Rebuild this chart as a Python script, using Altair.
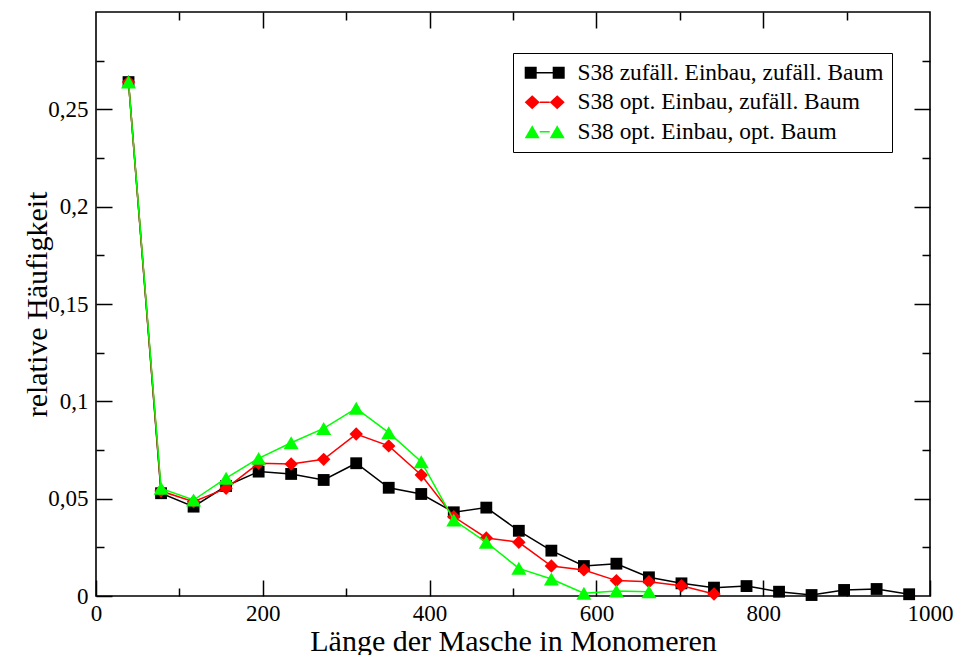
import altair as alt
import pandas as pd

# ---- data ----
x_pos = [39, 78, 117, 156, 195, 234, 273, 312, 351, 390, 429, 468, 507,
         546, 585, 624, 663, 702, 741, 780, 819, 858, 897, 936, 975]

black_y = [0.264, 0.0528, 0.0459, 0.0565, 0.0639, 0.0627, 0.0596, 0.0682,
           0.0556, 0.0524, 0.0430, 0.0454, 0.0335, 0.0233, 0.0154, 0.0166,
           0.0096, 0.0065, 0.0043, 0.0051, 0.0022, 0.0005, 0.0031, 0.0036,
           0.0009]
red_y = [0.264, 0.0539, 0.0484, 0.0553, 0.0682, 0.0678, 0.0702, 0.0832,
         0.0771, 0.0622, 0.0407, 0.0298, 0.0276, 0.0154, 0.0134, 0.0079,
         0.0073, 0.0053, 0.0010]
green_y = [0.264, 0.0553, 0.0493, 0.0605, 0.0707, 0.0787, 0.0861, 0.0964,
           0.0839, 0.0690, 0.0390, 0.0276, 0.0142, 0.0087, 0.0014, 0.0026,
           0.0022]

series_names = ["S38 zufäll. Einbau, zufäll. Baum",
                "S38 opt. Einbau, zufäll. Baum",
                "S38 opt. Einbau, opt. Baum"]
series_colors = ["#000000", "#ff0000", "#00ff00"]
marker_shapes = ["square", "diamond", "triangle-up"]
marker_sizes = [140, 180, 225]

x_major = [0, 200, 400, 600, 800, 1000]
x_minor = [100, 300, 500, 700, 900]
x_top_major = [200, 400, 600, 800]
y_major = [0, 0.05, 0.1, 0.15, 0.2, 0.25]
y_minor = [0.025, 0.075, 0.125, 0.175, 0.225, 0.275]

# legend symbols: marker - line - marker (custom paths, 10 px per unit)
legend_paths = [
    "M-2,-0.6L-0.8,-0.6L-0.8,0.6L-2,0.6Z M-0.8,-0.075L0.8,-0.075L0.8,0.075L-0.8,0.075Z M0.8,-0.6L2,-0.6L2,0.6L0.8,0.6Z",
    "M-2,0L-1.25,-0.7L-0.5,0L-1.25,0.7Z M-0.5,-0.075L0.5,-0.075L0.5,0.075L-0.5,0.075Z M0.5,0L1.25,-0.7L2,0L1.25,0.7Z",
    "M-2,0.65L-1.25,-0.65L-0.5,0.65Z M-0.5,-0.075L0.5,-0.075L0.5,0.075L-0.5,0.075Z M0.5,0.65L1.25,-0.65L2,0.65Z",
]

rows = []
for name, ys in zip(series_names, [black_y, red_y, green_y]):
    for xv, yv in zip(x_pos, ys):
        rows.append({"series": name, "x": xv, "y": yv})
df = pd.DataFrame(rows)

FONT = "Liberation Serif"
W, H = 834, 584

xscale = alt.Scale(domain=[0, 1000], nice=False, zero=False)
yscale = alt.Scale(domain=[0, 0.3], nice=False, zero=False)
color_scale = alt.Scale(domain=series_names, range=series_colors)
shape_scale = alt.Scale(domain=series_names, range=marker_shapes)

tick_common = dict(domain=False, grid=False, tickColor="black", tickWidth=1.5)

def tick_axis(orient, values, size):
    return alt.Axis(orient=orient, values=values, offset=-size, tickSize=size,
                    labels=False, title=None, **tick_common)

x_main = alt.Axis(orient="bottom", values=x_major, offset=-16, tickSize=16,
                  labelFont=FONT, labelFontSize=23, labelColor="black",
                  labelPadding=6, labelFlush=False, labelOverlap=False,
                  format="d",
                  title="Länge der Masche in Monomeren", titleFont=FONT,
                  titleFontSize=30, titleFontWeight="normal",
                  titleColor="black", titleBaseline="alphabetic", titleY=70,
                  **tick_common)
y_main = alt.Axis(orient="left", values=y_major, offset=-16, tickSize=16,
                  labelFont=FONT, labelFontSize=23, labelColor="black",
                  labelPadding=8, labelFlush=False, labelOverlap=False,
                  format=".2~f", labelExpr="replace(datum.label, '.', ',')",
                  title="relative Häufigkeit", titleFont=FONT,
                  titleFontSize=30, titleFontWeight="normal",
                  titleColor="black", titleBaseline="alphabetic", titleX=-66,
                  **tick_common)

axes_plan = [
    (x_main, y_main),
    (tick_axis("bottom", x_minor, 8), tick_axis("left", y_minor, 8)),
    (tick_axis("top", x_top_major, 16), tick_axis("right", y_major[1:], 16)),
    (tick_axis("top", x_minor, 8), tick_axis("right", y_minor, 8)),
    (None, None), (None, None),
]

layers = []
k = 0
for i, name in enumerate(series_names):
    base = alt.Chart(df).transform_filter(alt.datum.series == name)
    xa, ya = axes_plan[k]
    line = base.mark_line(strokeWidth=1.5).encode(
        x=alt.X("x:Q", scale=xscale, axis=xa),
        y=alt.Y("y:Q", scale=yscale, axis=ya),
        color=alt.Color("series:N", scale=color_scale, legend=None),
    )
    k += 1
    xa, ya = axes_plan[k]
    pts = base.mark_point(filled=True, opacity=1, size=marker_sizes[i]).encode(
        x=alt.X("x:Q", scale=xscale, axis=xa),
        y=alt.Y("y:Q", scale=yscale, axis=ya),
        color=alt.Color("series:N", scale=color_scale, legend=None),
        shape=alt.Shape("series:N", scale=shape_scale, legend=None),
    )
    k += 1
    layers += [line, pts]

legend_kw = dict(orient="none", legendX=417, legendY=41, title=None,
                 labelFont=FONT, labelFontSize=23.4, labelColor="black",
                 labelLimit=0, symbolSize=400, symbolStrokeWidth=0,
                 symbolOpacity=1, symbolOffset=12, labelOffset=21,
                 rowPadding=4.5, padding=8, strokeColor="black",
                 fillColor="white")

legend_layer = alt.Chart(df).transform_filter("false").mark_point(
    filled=True, opacity=1, size=400).encode(
    x=alt.X("x:Q", scale=xscale, axis=None),
    y=alt.Y("y:Q", scale=yscale, axis=None),
    color=alt.Color("series:N", scale=color_scale, legend=alt.Legend(**legend_kw)),
    shape=alt.Shape("series:N",
                    scale=alt.Scale(domain=series_names, range=legend_paths),
                    legend=alt.Legend(**legend_kw)),
)
layers.append(legend_layer)

chart = alt.layer(*layers).resolve_scale(
    color="independent", shape="independent"
).resolve_axis(
    x="independent", y="independent"
).properties(
    width=W, height=H,
    autosize=alt.AutoSizeParams(type="none"),
    padding={"left": 96, "top": 12, "right": 26, "bottom": 59},
    background="white",
).configure(
    font=FONT
).configure_axis(
    labelFont=FONT, titleFont=FONT
).configure_legend(
    labelFont=FONT
).configure_view(stroke="black", strokeWidth=1.6)

chart.save("out.html", embed_options={"renderer": "svg", "actions": False})
